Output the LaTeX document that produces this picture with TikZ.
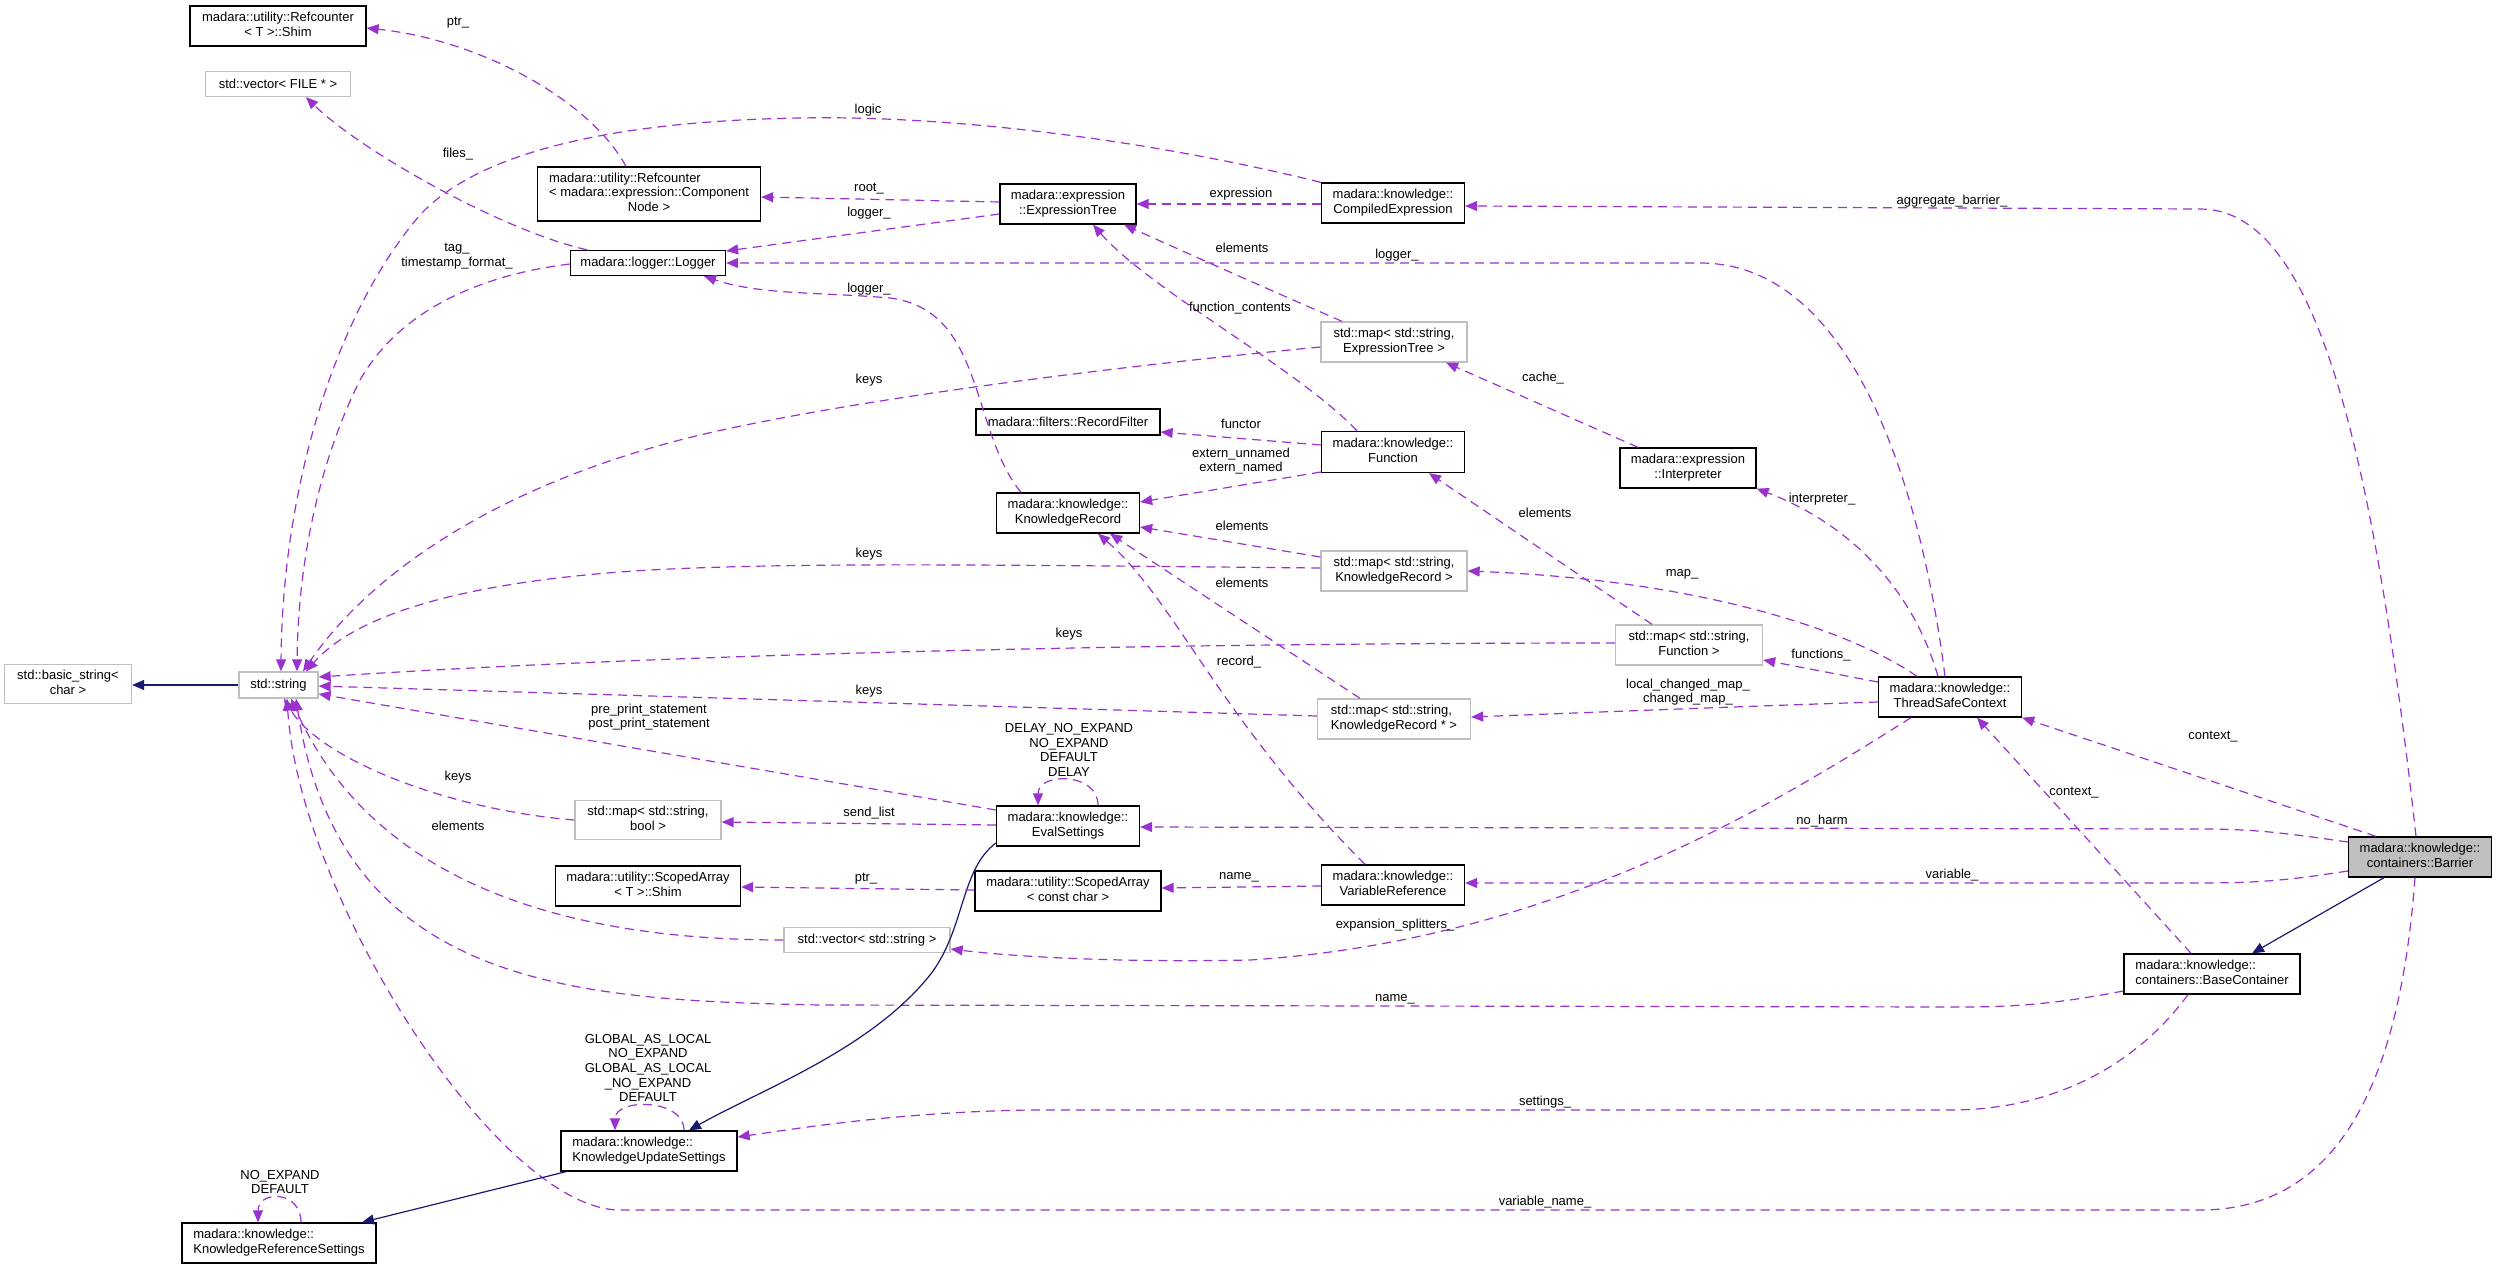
\documentclass[tikz,border=0pt]{standalone}
\usepackage{fontspec}
\setmainfont{Liberation Sans}
\usetikzlibrary{arrows.meta}
\definecolor{edgep}{HTML}{9A32CD}
\definecolor{navyc}{HTML}{191970}
\definecolor{gborder}{HTML}{BFBFBF}
\definecolor{gfill}{HTML}{BFBFBF}
\newcommand\lbl{\fontsize{13}{14.7}\selectfont}
\newcommand\twoln[2]{\begin{tabular}{@{}l@{}}#1\\\multicolumn{1}{@{}c@{}}{#2}\end{tabular}}
\begin{document}
\begin{tikzpicture}[x=1pt,y=-1pt,
  box/.style={draw=black,line width=1.3pt,fill=white,inner sep=0pt,font=\lbl,align=center},
  gbox/.style={box,draw=gborder},
  lab/.style={font=\lbl,inner sep=0pt,align=center},
  mem/.style={draw=edgep,line width=1.2pt,dash pattern=on 9pt off 6pt,-{Triangle[length=12pt,width=10pt,fill=edgep]}},
  inh/.style={draw=navyc,line width=1.2pt,-{Triangle[length=12pt,width=10pt,fill=navyc]}}]
\useasboundingbox (0,0) rectangle (2497,1269);
% nodes
\node[box,minimum width=176pt,minimum height=40pt] (shimT) at (278,26) {\twoln{madara::utility::Refcounter}{< T >::Shim}};
\node[gbox,minimum width=145pt,minimum height=25pt] (vecfile) at (278,84) {std::vector< FILE * >};
\node[box,minimum width=223pt,minimum height=54pt] (refcn) at (649,194) {\begin{tabular}{@{}l@{}}madara::utility::Refcounter\\< madara::expression::Component\\\multicolumn{1}{@{}c@{}}{Node >}\end{tabular}};
\node[box,minimum width=155pt,minimum height=25pt] (logger) at (648,263) {madara::logger::Logger};
\node[box,minimum width=136pt,minimum height=40pt] (exprtree) at (1068,204) {\twoln{madara::expression}{::ExpressionTree}};
\node[box,minimum width=143pt,minimum height=40pt] (compexpr) at (1393,203) {\twoln{madara::knowledge::}{CompiledExpression}};
\node[gbox,minimum width=146pt,minimum height=40pt] (mapexpr) at (1394,342) {\twoln{std::map< std::string,}{ExpressionTree >}};
\node[box,minimum width=184pt,minimum height=26pt] (recfilter) at (1068,422) {madara::filters::RecordFilter};
\node[box,minimum width=143pt,minimum height=41pt] (func) at (1393,452) {\twoln{madara::knowledge::}{Function}};
\node[box,minimum width=136pt,minimum height=40pt] (interp) at (1688,468) {\twoln{madara::expression}{::Interpreter}};
\node[box,minimum width=143pt,minimum height=40pt] (krec) at (1068,513) {\twoln{madara::knowledge::}{KnowledgeRecord}};
\node[gbox,minimum width=146pt,minimum height=40pt] (mapkr) at (1394,571) {\twoln{std::map< std::string,}{KnowledgeRecord >}};
\node[gbox,minimum width=147pt,minimum height=40pt] (mapfunc) at (1689,645) {\twoln{std::map< std::string,}{Function >}};
\node[gbox,minimum width=153pt,minimum height=40pt] (mapkrp) at (1394,719) {\twoln{std::map< std::string,}{KnowledgeRecord * >}};
\node[box,minimum width=143pt,minimum height=40pt] (tsc) at (1950,697) {\twoln{madara::knowledge::}{ThreadSafeContext}};
\node[box,fill=gfill,minimum width=143pt,minimum height=40pt] (barrier) at (2420,857) {\twoln{madara::knowledge::}{containers::Barrier}};
\node[gbox,minimum width=127pt,minimum height=39pt] (bstring) at (68,684) {\twoln{std::basic\_string<}{char >}};
\node[gbox,minimum width=79pt,minimum height=26pt] (str) at (278.5,685) {std::string};
\node[gbox,minimum width=146pt,minimum height=39pt] (mapbool) at (648,820) {\twoln{std::map< std::string,}{bool >}};
\node[box,minimum width=185pt,minimum height=40pt] (shimarr) at (648,886) {\twoln{madara::utility::ScopedArray}{< T >::Shim}};
\node[box,minimum width=143pt,minimum height=40pt] (evalset) at (1068,826) {\twoln{madara::knowledge::}{EvalSettings}};
\node[box,minimum width=186pt,minimum height=40pt] (scarr) at (1068,891) {\twoln{madara::utility::ScopedArray}{< const char >}};
\node[box,minimum width=143pt,minimum height=40pt] (varref) at (1393,885) {\twoln{madara::knowledge::}{VariableReference}};
\node[gbox,minimum width=166pt,minimum height=25pt] (vecstr) at (867,940) {std::vector< std::string >};
\node[box,minimum width=176pt,minimum height=40pt] (basecont) at (2212,974) {\twoln{madara::knowledge::}{containers::BaseContainer}};
\node[box,minimum width=176pt,minimum height=40pt] (kus) at (649,1151) {\twoln{madara::knowledge::}{KnowledgeUpdateSettings}};
\node[box,minimum width=194pt,minimum height=40pt] (krs) at (279,1243) {\twoln{madara::knowledge::}{KnowledgeReferenceSettings}};
% edges
\draw[mem] (refcn.north -| 626,0) .. controls (590,100) and (480,40) .. (shimT.east |- 0,28);
\draw[mem] (logger.north -| 587,0) .. controls (500,230) and (360,150) .. (vecfile.south -| 306,0);
\draw[mem] (logger.west |- 0,264) .. controls (480,275) and (400,310) .. (360,380) .. controls (320,460) and (298,560) .. (str.north -| 297,0);
\draw[mem] (compexpr.north west) .. controls (1150,140) and (950,115) .. (800,118) .. controls (620,121) and (480,150) .. (420,215) .. controls (330,320) and (282,500) .. (str.north -| 281,0);
\draw[mem] (compexpr.west |- 0,204) -- (exprtree.east |- 0,204);
\draw[mem] (exprtree.west |- 0,202) -- (refcn.east |- 0,197);
\draw[mem] (exprtree.west |- 0,214) -- (logger.east |- 0,251);
\draw[mem] (mapexpr.north -| 1342,0) .. controls (1270,290) and (1180,250) .. (exprtree.south -| 1124,0);
\draw[mem] (func.north -| 1357,0) .. controls (1300,370) and (1150,290) .. (exprtree.south -| 1093,0);
\draw[mem] (interp.north -| 1638,0) -- (mapexpr.south -| 1446,0);
\draw[mem] (mapexpr.west |- 0,347) .. controls (1100,368) and (850,400) .. (700,435) .. controls (520,478) and (380,560) .. (str.north -| 303,0);
\draw[mem] (tsc.north -| 1945,0) .. controls (1920,480) and (1850,263) .. (1700,263) -- (logger.east |- 0,263);
\draw[mem] (tsc.north -| 1938,0) .. controls (1910,580) and (1840,520) .. (interp.south east);
\draw[mem] (tsc.north -| 1917,0) .. controls (1850,630) and (1700,580) .. (mapkr.east |- 0,571);
\draw[mem] (tsc.west |- 0,682) -- (mapfunc.east |- 0,660);
\draw[mem] (tsc.west |- 0,702) .. controls (1780,705) and (1600,712) .. (mapkrp.east |- 0,717);
\draw[mem] (tsc.south -| 1911,0) .. controls (1780,800) and (1560,940) .. (1250,960) .. controls (1100,963) and (1000,955) .. (vecstr.east |- 0,949);
\draw[mem] (barrier.north -| 2376,0) -- (tsc.south east);
\draw[mem] (barrier.west |- 0,842) .. controls (2290,834) and (2260,829) .. (2200,829) -- (evalset.east |- 0,827);
\draw[mem] (barrier.west |- 0,871) .. controls (2290,880) and (2260,883) .. (2200,883) -- (varref.east |- 0,883);
\draw[mem] (barrier.north -| 2416,0) .. controls (2370,420) and (2310,209) .. (2200,209) -- (compexpr.east |- 0,206);
\draw[inh] (barrier.south -| 2384,0) -- (basecont.north -| 2252,0);
\draw[mem] (barrier.south -| 2415,0) .. controls (2400,1080) and (2340,1210) .. (2200,1210) -- (620,1210) .. controls (500,1210) and (300,900) .. (str.south -| 287,0);
\draw[mem] (basecont.north -| 2191,0) -- (tsc.south -| 1977,0);
\draw[mem] (basecont.south -| 2188,0) .. controls (2140,1060) and (2060,1110) .. (1950,1110) -- (1030,1110) .. controls (900,1112) and (800,1128) .. (kus.east |- 0,1137);
\draw[mem] (basecont.west |- 0,991) .. controls (2060,1003) and (2020,1007) .. (1960,1007) -- (820,1005) .. controls (580,1000) and (340,990) .. (str.south -| 296,0);
\draw[mem] (vecstr.west |- 0,940) .. controls (600,940) and (380,900) .. (str.south -| 291,0);
\draw[mem] (mapbool.west |- 0,820) .. controls (450,810) and (320,760) .. (str.south -| 284,0);
\draw[mem] (evalset.west |- 0,810) -- (str.east |- 0,694);
\draw[mem] (mapfunc.west |- 0,643) .. controls (1200,643) and (700,652) .. (str.east |- 0,677);
\draw[mem] (mapkrp.west |- 0,716) -- (str.east |- 0,686);
\draw[mem] (mapkr.west |- 0,568) .. controls (1000,565) and (800,562) .. (650,570) .. controls (480,580) and (360,610) .. (str.north -| 306,0);
\draw[mem] (krec.north -| 1021,0) .. controls (970,430) and (985,310) .. (890,298) .. controls (820,292) and (760,295) .. (logger.south -| 704,0);
\draw[mem] (func.west |- 0,445) -- (recfilter.east |- 0,432);
\draw[mem] (func.west |- 0,472) -- (krec.east |- 0,502);
\draw[mem] (mapkr.west |- 0,557) -- (krec.east |- 0,527);
\draw[mem] (mapkrp.north -| 1360,0) -- (krec.south -| 1110,0);
\draw[mem] (varref.north -| 1365,0) .. controls (1220,720) and (1175,600) .. (krec.south -| 1098,0);
\draw[mem] (mapfunc.north -| 1652,0) -- (func.south -| 1429,0);
\draw[mem] (evalset.north -| 1098,0) .. controls (1098,772) and (1038,772) .. (evalset.north -| 1038,0);
\draw[mem] (evalset.west |- 0,825) -- (mapbool.east |- 0,822);
\draw[inh] (evalset.west |- 0,843) .. controls (960,870) and (965,930) .. (930,975) .. controls (870,1050) and (760,1090) .. (kus.north -| 689,0);
\draw[inh] (kus.south -| 566,0) -- (krs.north -| 362,0);
\draw[mem] (kus.north -| 684,0) .. controls (684,1098) and (615,1098) .. (kus.north -| 615,0);
\draw[mem] (krs.north -| 301,0) .. controls (301,1190) and (258,1190) .. (krs.north -| 258,0);
\draw[mem] (scarr.west |- 0,890) -- (shimarr.east |- 0,887);
\draw[mem] (varref.west |- 0,886) -- (scarr.east |- 0,888);
\draw[inh] (str.west) -- (bstring.east |- str.west);
% labels
\node[lab] (l1) at (458,23) {ptr\_};
\node[lab] (l2) at (458,154) {files\_};
\node[lab] (l3) at (457,256) {tag\_\\timestamp\_format\_};
\node[lab] (l4) at (868,110) {logic};
\node[lab] (l5) at (869,189) {root\_};
\node[lab] (l6) at (869,213) {logger\_};
\node[lab] (l7) at (1241,194) {expression};
\node[lab] (l8) at (1242,248) {elements};
\node[lab] (l9) at (1397,255) {logger\_};
\node[lab] (l10) at (869,289) {logger\_};
\node[lab] (l11) at (1240,308) {function\_contents};
\node[lab] (l12) at (869,380) {keys};
\node[lab] (l13) at (1543,378) {cache\_};
\node[lab] (l14) at (1241,424) {functor};
\node[lab] (l15) at (1241,461) {extern\_unnamed\\extern\_named};
\node[lab] (l16) at (1545,513) {elements};
\node[lab] (l17) at (1242,526) {elements};
\node[lab] (l18) at (869,554) {keys};
\node[lab] (l19) at (1682,574) {map\_};
\node[lab] (l20) at (1242,583) {elements};
\node[lab] (l21) at (1069,634) {keys};
\node[lab] (l22) at (1239,662) {record\_};
\node[lab] (l23) at (869,691) {keys};
\node[lab] (l24) at (1688,692) {local\_changed\_map\_\\changed\_map\_};
\node[lab] (l25) at (1069,750) {DELAY\_NO\_EXPAND\\NO\_EXPAND\\DEFAULT\\DELAY};
\node[lab] (l26) at (869,813) {send\_list};
\node[lab] (l27) at (866,879) {ptr\_};
\node[lab] (l28) at (1239,877) {name\_};
\node[lab] (l29) at (649,717) {pre\_print\_statement\\post\_print\_statement};
\node[lab] (l30) at (458,777) {keys};
\node[lab] (l31) at (458,826) {elements};
\node[lab] (l32) at (1822,499) {interpreter\_};
\node[lab] (l33) at (1821,655) {functions\_};
\node[lab] (l34) at (2213,737) {context\_};
\node[lab] (l35) at (2074,793) {context\_};
\node[lab] (l36) at (1822,821) {no\_harm};
\node[lab] (l37) at (1952,875) {variable\_};
\node[lab] (l38) at (1952,201) {aggregate\_barrier\_};
\node[lab] (l39) at (1395,925) {expansion\_splitters\_};
\node[lab] (l40) at (1395,999) {name\_};
\node[lab] (l41) at (1545,1102) {settings\_};
\node[lab] (l42) at (1545,1202) {variable\_name\_};
\node[lab] (l43) at (648,1068) {GLOBAL\_AS\_LOCAL\\NO\_EXPAND\\GLOBAL\_AS\_LOCAL\\\_NO\_EXPAND\\DEFAULT};
\node[lab] (l44) at (280,1182) {NO\_EXPAND\\DEFAULT};
\end{tikzpicture}
\end{document}
